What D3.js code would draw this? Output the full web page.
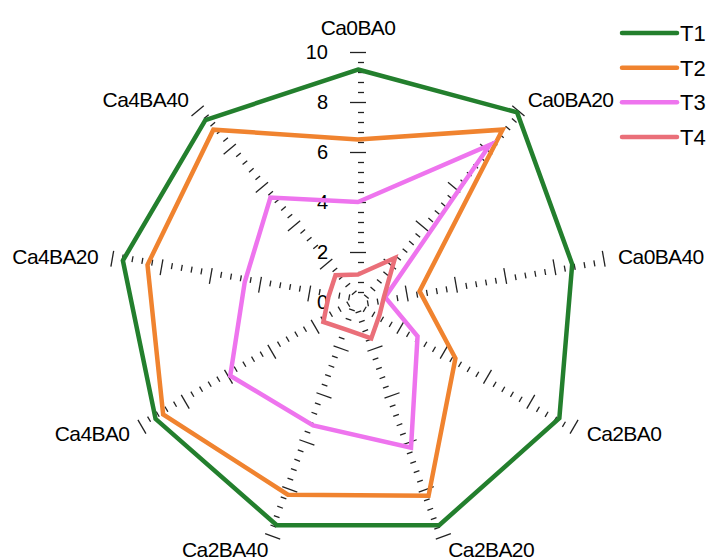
<!DOCTYPE html>
<html>
<head>
<meta charset="utf-8">
<script src="https://cdn.jsdelivr.net/npm/d3@7"></script>
<style>
  body { margin: 0; background: #fff; }
  text { font-family: 'Liberation Sans', Arial, sans-serif; fill: #000; }
</style>
</head>
<body>
<svg id="chart" width="707" height="560"></svg>
<script>
const categories = ['Ca0BA0', 'Ca0BA20', 'Ca0BA40', 'Ca2BA0', 'Ca2BA20', 'Ca2BA40', 'Ca4BA0', 'Ca4BA20', 'Ca4BA40'];
const seriesNames = ['T1', 'T2', 'T3', 'T4'];
const t1 = [9.3, 9.9, 8.7, 9.3, 9.5, 9.5, 9.35, 9.55, 9.5];
const t2 = [6.5, 9.0, 2.5, 4.5, 8.25, 8.2, 9.0, 8.55, 9.0];
const t3 = [4.0, 8.2, 1.1, 2.75, 6.2, 5.25, 5.9, 4.6, 5.45];
const t4 = [1.1, 2.3, 1.05, 1.0, 1.55, 1.2, 1.6, 1.2, 1.4];
const tickLabels = [0, 2, 4, 6, 8, 10];
const colors = ['#237f2d', '#f0832f', '#ee74ee', '#ea6f79'];

const cx = 358;
const cy = 302;
const maxR = 250;

const svg = d3.select('#chart');

const r = d3.scaleLinear().domain([0, 10]).range([0, maxR]);
const angle = d3
  .scaleLinear()
  .domain([0, categories.length])
  .range([0, 2 * Math.PI]);

const root = svg.append('g').attr('transform', `translate(${cx},${cy})`);

// axes: one per category, rotated, ticks only (nothing at the centre)
const yAxisScale = d3.scaleLinear().domain([0, 10]).range([0, -maxR]);
const tickVals = d3.range(1, 26).map((i) => +(i * 0.4).toFixed(1));
const isMajor = (d) => Math.abs(d / 2 - Math.round(d / 2)) < 1e-6;

categories.forEach((c, i) => {
  const deg = (angle(i) * 180) / Math.PI;
  root
    .append('g')
    .attr('transform', `rotate(${deg})`)
    .call(d3.axisRight(yAxisScale).tickValues(tickVals).tickSize(6).tickFormat(''))
    .call((g) => g.select('.domain').remove())
    .call((g) =>
      g
        .selectAll('.tick line')
        .attr('stroke', '#222')
        .attr('stroke-width', 1.3)
        .filter(isMajor)
        .attr('x1', -8)
        .attr('x2', 8)
    );
});

// tick labels on the top axis
root
  .selectAll('.rlabel')
  .data(tickLabels)
  .join('text')
  .attr('class', 'rlabel')
  .attr('x', -30)
  .attr('y', (d) => -r(d))
  .attr('dy', '0.35em')
  .attr('text-anchor', 'end')
  .attr('font-size', 20)
  .text((d) => d);

// category labels
const labelR = 264;
root
  .selectAll('.clabel')
  .data(categories)
  .join('text')
  .attr('class', 'clabel')
  .attr('x', (d, i) => labelR * Math.sin(angle(i)))
  .attr('y', (d, i) => (i === 0 ? -267 : -labelR * Math.cos(angle(i))))
  .attr('dy', (d, i) => (i === 0 ? 0 : '0.35em'))
  .attr('text-anchor', (d, i) => {
    const s = Math.sin(angle(i));
    return s > 0.1 ? 'start' : s < -0.1 ? 'end' : 'middle';
  })
  .attr('font-size', 21)
  .attr('letter-spacing', -0.6)
  .text((d) => d);

// series
const series = [t1, t2, t3, t4];
const radial = d3
  .lineRadial()
  .angle((d, i) => angle(i))
  .radius((d) => r(d))
  .curve(d3.curveLinearClosed);

root
  .selectAll('.series')
  .data(series)
  .join('path')
  .attr('class', 'series')
  .attr('d', radial)
  .attr('fill', 'none')
  .attr('stroke', (d, i) => colors[i])
  .attr('stroke-width', 4.5)
  .attr('stroke-linejoin', 'miter');

// legend
const legend = svg.append('g').attr('transform', 'translate(622,33)');
const ly = d3.scalePoint().domain(seriesNames).range([0, 104]);
const item = legend
  .selectAll('g')
  .data(seriesNames)
  .join('g')
  .attr('transform', (d) => `translate(0,${ly(d)})`);
item
  .append('line')
  .attr('x1', 0)
  .attr('x2', 55)
  .attr('stroke', (d, i) => colors[i])
  .attr('stroke-width', 4.5)
  .attr('stroke-linecap', 'round');
item
  .append('text')
  .attr('x', 58)
  .attr('dy', '0.36em')
  .attr('font-size', 22)
  .text((d) => d);
</script>
</body>
</html>
